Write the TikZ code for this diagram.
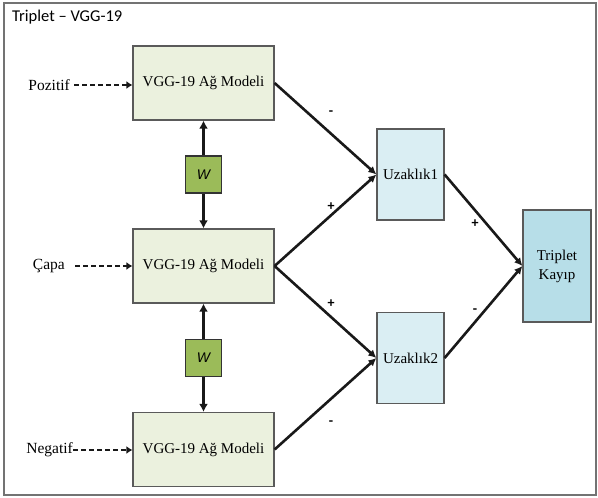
\documentclass[tikz,border=0pt]{standalone}
\usepackage{fontspec}
\setmainfont{Liberation Serif}
\newfontfamily\carl{Carlito}
\newfontfamily\lsans{Liberation Sans}
\usetikzlibrary{arrows.meta}
\definecolor{modelfill}{HTML}{EBF1DE}
\definecolor{wfill}{HTML}{9BBB59}
\definecolor{ufill}{HTML}{DAEEF3}
\definecolor{tfill}{HTML}{B7DEE8}
\definecolor{edge}{HTML}{5A5A5A}
\tikzset{
  modelbox/.style={draw=edge, line width=1.2pt, fill=modelfill, minimum width=141pt, minimum height=74pt, inner sep=0pt, font=\fontsize{15}{17}\selectfont},
  wbox/.style={draw=black!80, line width=1.2pt, fill=wfill, minimum width=36pt, minimum height=37pt, inner sep=0pt, font=\lsans\itshape\fontsize{14}{16}\selectfont},
  distbox/.style={draw=edge, line width=1.2pt, fill=ufill, minimum width=67pt, minimum height=91pt, inner sep=0pt, font=\fontsize{15}{17}\selectfont},
  lossbox/.style={draw=edge, line width=1.2pt, fill=tfill, minimum width=68pt, minimum height=112pt, inner sep=0pt, align=center, font=\fontsize{15}{19}\selectfont},
  inlabel/.style={inner sep=0pt, font=\fontsize{15.5}{17}\selectfont},
  sign/.style={inner sep=0pt, font=\carl\bfseries\fontsize{14}{15}\selectfont},
  conn/.style={line width=2.6pt, black!90, -{Latex[length=8pt,width=8pt]}},
  dconn/.style={line width=2.8pt, black!90, dash pattern=on 5pt off 3pt, -{Latex[length=6pt,width=8pt]}},
  wconn/.style={line width=2.6pt, black!90, {Latex[length=8pt,width=9pt]}-{Latex[length=8pt,width=9pt]}}
}
\begin{document}
\begin{tikzpicture}[x=1pt,y=-1pt]
\useasboundingbox (0,0) rectangle (598,498);
\draw[draw=gray!90!black, line width=1.2pt] (4,3) rectangle (596,495);
\node[anchor=west, inner sep=0pt, font=\carl\fontsize{16.5}{18}\selectfont] (title) at (12,17) {Triplet – VGG-19};

\node[modelbox] (m1) at (203.5,83) {VGG-19 Ağ Modeli};
\node[modelbox] (m2) at (203.5,266) {VGG-19 Ağ Modeli};
\node[modelbox] (m3) at (203.5,449.5) {VGG-19 Ağ Modeli};

\node[distbox] (u1) at (410.5,174.5) {Uzaklık1};
\node[distbox] (u2) at (410.5,358) {Uzaklık2};
\node[lossbox] (t) at (557,266) {Triplet\\Kayıp};

\node[inlabel, anchor=east] (lp) at (70,85) {Pozitif};
\node[inlabel, anchor=east] (lc) at (65,266) {Çapa};
\node[inlabel, anchor=east] (ln) at (73,450) {Negatif};

\draw[dconn] ([xshift=4pt]lp.east) -- (m1.west |- lp.east);
\draw[dconn] ([xshift=10pt]lc.east) -- (m2.west |- lc.east);
\draw[dconn] (ln.east) -- (m3.west |- ln.east);

\draw[wconn] (m1.south) -- (m2.north);
\draw[wconn] (m2.south) -- (m3.north);
\node[wbox] (w1) at (203.5,174.5) {W};
\node[wbox] (w2) at (203.5,358) {W};

\draw[conn] (m1.east) -- (u1.west);
\draw[conn] (m2.east) -- (u1.west);
\draw[conn] (m2.east) -- (u2.west);
\draw[conn] (m3.east) -- (u2.west);
\draw[conn] (u1.east) -- (t.west);
\draw[conn] (u2.east) -- (t.west);

\node[sign] (s1) at (331,113) {-};
\node[sign] (s2) at (331,207) {+};
\node[sign] (s3) at (331,304) {+};
\node[sign] (s4) at (331,423) {-};
\node[sign] (s5) at (475,224) {+};
\node[sign] (s6) at (475,311) {-};
\end{tikzpicture}
\end{document}
